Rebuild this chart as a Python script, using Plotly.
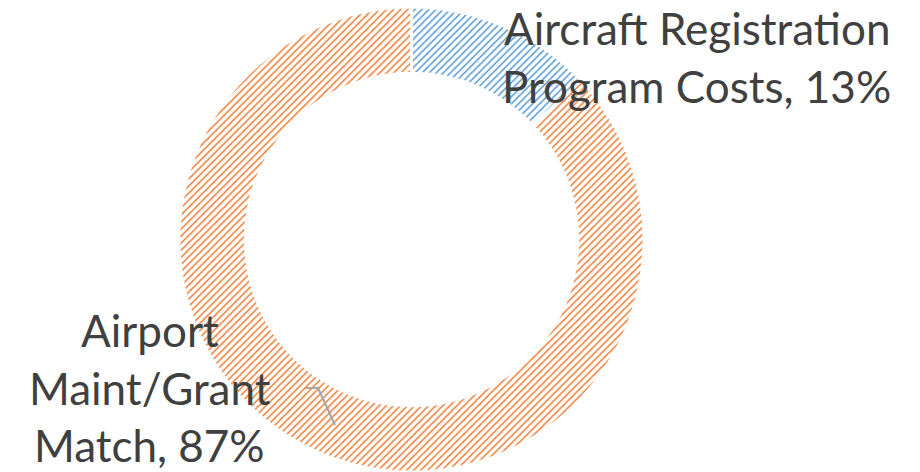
import plotly.graph_objects as go

categories = ["Aircraft Registration Program Costs", "Airport Maint/Grant Match"]
values = [13, 87]
# label text, split into the lines shown in the chart
right_label_lines = ["Aircraft Registration", "Program Costs, 13%"]
left_label_lines = ["Airport", "Maint/Grant", "Match, 87%"]
bg_colors = ["#D6E6F5", "#FDE1CE"]
fg_colors = ["#5B9BD5", "#F07F3A"]

W, H = 920, 472


def px(x):
    return x / W


def py(y):
    return 1 - y / H


fig = go.Figure(go.Pie(
    labels=categories,
    values=values,
    sort=False,
    direction="clockwise",
    rotation=0,
    hole=0.715,
    textinfo="none",
    marker=dict(
        colors=bg_colors,
        line=dict(color="white", width=3),
        pattern=dict(shape="/", fgcolor=fg_colors, size=5, solidity=0.3, fillmode="replace"),
    ),
    domain=dict(x=[px(178.5), px(644.5)], y=[0.0, py(7)]),
    showlegend=False,
))

font = dict(family="Lato, Calibri, sans-serif", size=44, color="#404040")
for i, line in enumerate(right_label_lines):
    fig.add_annotation(text=line, x=px(696.5), y=py(28 + 58 * i), xref="paper", yref="paper",
                       showarrow=False, font=font, xanchor="center", yanchor="middle")
for i, line in enumerate(left_label_lines):
    fig.add_annotation(text=line, x=px(149.5), y=py(330 + 57.5 * i), xref="paper", yref="paper",
                       showarrow=False, font=font, xanchor="center", yanchor="middle")

fig.add_shape(type="path", xref="paper", yref="paper",
              path=f"M {px(306)} {py(388)} L {px(318)} {py(388)} L {px(335)} {py(425)}",
              line=dict(color="#A6A6A6", width=2))

fig.update_layout(width=W, height=H, margin=dict(l=0, r=0, t=0, b=0),
                  paper_bgcolor="white", plot_bgcolor="white")
fig.write_html("out.html", post_script="document.body.style.margin='0';",
               config={"displayModeBar": False})
